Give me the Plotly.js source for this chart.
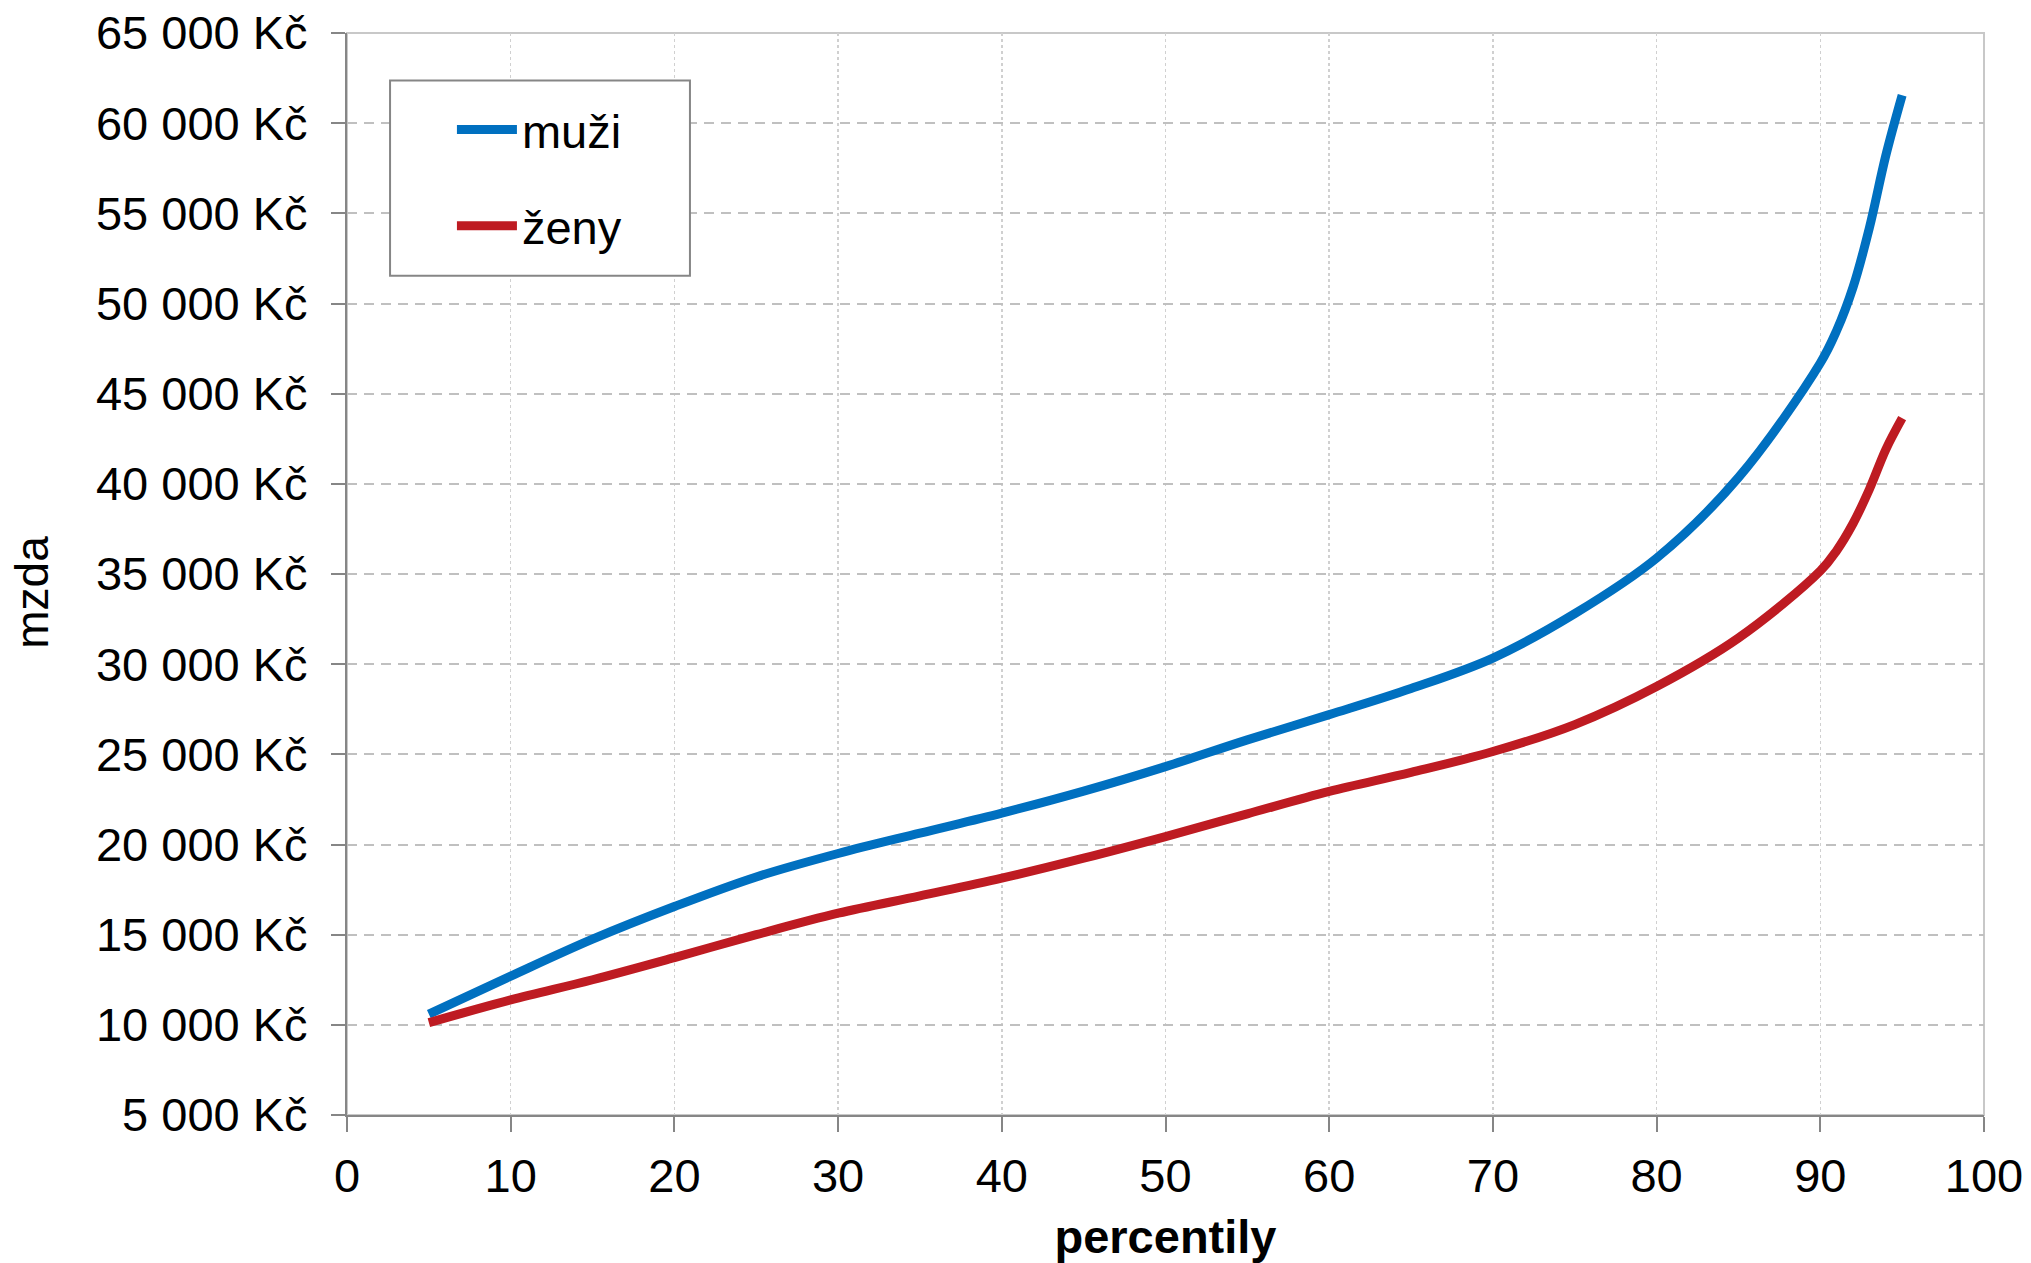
<!DOCTYPE html>
<html>
<head>
<meta charset="utf-8">
<script src="https://cdn.plot.ly/plotly-3.0.1.min.js"></script>
<style>
html, body { margin: 0; padding: 0; background: #ffffff; }
#chart { width: 2031px; height: 1263px; }
</style>
</head>
<body>
<div id="chart"></div>
<script>
// percentiles
var percentiles = [5, 10, 15, 20, 25, 30, 35, 40, 45, 50, 55, 60, 65, 70, 75, 80, 85, 90, 91, 92, 93, 94, 95];
// wages (Kč)
var muzi = [10590, 12700, 14750, 16560, 18200, 19500, 20630, 21740, 22960, 24320, 25800, 27200, 28650, 30340, 32800, 35880, 40350, 46700, 48500, 50900, 54200, 58200, 61550];
var zeny = [10120, 11380, 12500, 13730, 15000, 16190, 17150, 18130, 19240, 20440, 21700, 22950, 24000, 25155, 26650, 28760, 31450, 35170, 36300, 37800, 39700, 41900, 43640];

var seriesNames = ["muži", "ženy"];
var yTickVals = [5000, 10000, 15000, 20000, 25000, 30000, 35000, 40000, 45000, 50000, 55000, 60000, 65000];
var yTickText = ["5 000 Kč", "10 000 Kč", "15 000 Kč", "20 000 Kč", "25 000 Kč", "30 000 Kč", "35 000 Kč", "40 000 Kč", "45 000 Kč", "50 000 Kč", "55 000 Kč", "60 000 Kč", "65 000 Kč"];
var xTickVals = [0, 10, 20, 30, 40, 50, 60, 70, 80, 90, 100];
var xTitle = "percentily";
var yTitle = "mzda";

var FONT = "Liberation Sans, Arial, sans-serif";

var traces = [
  {
    x: percentiles, y: muzi, name: seriesNames[0], type: "scatter", mode: "lines",
    legendgroup: "a",
    line: { color: "#0070C0", width: 9, shape: "spline", smoothing: 1 }
  },
  {
    x: percentiles, y: zeny, name: seriesNames[1], type: "scatter", mode: "lines",
    legendgroup: "b",
    line: { color: "#BE1B22", width: 9, shape: "spline", smoothing: 1 }
  }
];

var layout = {
  width: 2031, height: 1263,
  margin: { l: 347, r: 47, t: 33, b: 148 },
  paper_bgcolor: "#ffffff",
  plot_bgcolor: "#ffffff",
  font: { family: FONT, size: 47, color: "#000000" },
  showlegend: true,
  legend: {
    x: 0.0641, y: 0.945, xanchor: "left", yanchor: "top",
    borderwidth: 0, bgcolor: "rgba(0,0,0,0)",
    font: { family: FONT, size: 47, color: "#000000" },
    tracegroupgap: 32,
    itemwidth: 60
  },
  xaxis: {
    range: [0, 100],
    tickvals: xTickVals,
    ticks: "outside", ticklen: 15, tickwidth: 2, tickcolor: "#868686",
    showline: true, linecolor: "#868686", linewidth: 2,
    showgrid: true, gridcolor: "#d0d0d0", gridwidth: 1.5, griddash: "dot",
    zeroline: false,
    tickfont: { family: FONT, size: 47, color: "#000000" },
    ticklabelstandoff: 4,
    title: { text: "<b>" + xTitle + "</b>", font: { family: FONT, size: 47, color: "#000000" }, standoff: 20 }
  },
  yaxis: {
    range: [5000, 65000],
    tickvals: yTickVals, ticktext: yTickText,
    ticks: "outside", ticklen: 14, tickwidth: 2, tickcolor: "#868686",
    showline: true, linecolor: "#868686", linewidth: 2,
    showgrid: true, gridcolor: "#c0c0c0", gridwidth: 2, griddash: "10px,7px",
    zeroline: false,
    tickfont: { family: FONT, size: 47, color: "#000000" },
    ticklabelstandoff: 14
  },
  annotations: [
    { text: yTitle, xref: "paper", yref: "paper", x: -0.1924, y: 0.4827,
      xanchor: "center", yanchor: "middle", textangle: -90, showarrow: false,
      font: { family: FONT, size: 46, color: "#000000" } }
  ],
  shapes: [
    { type: "rect", xref: "paper", yref: "paper", x0: 0, x1: 1, y0: 0, y1: 1,
      line: { color: "#c8c8c8", width: 2 }, layer: "below" },
    { type: "rect", xref: "paper", yref: "paper",
      x0: 0.0263, x1: 0.2095, y0: 0.7757, y1: 0.9561,
      line: { color: "#868686", width: 2 }, fillcolor: "#ffffff", layer: "above" }
  ]
};

Plotly.newPlot("chart", traces, layout, { displayModeBar: false, staticPlot: true });
</script>
</body>
</html>
